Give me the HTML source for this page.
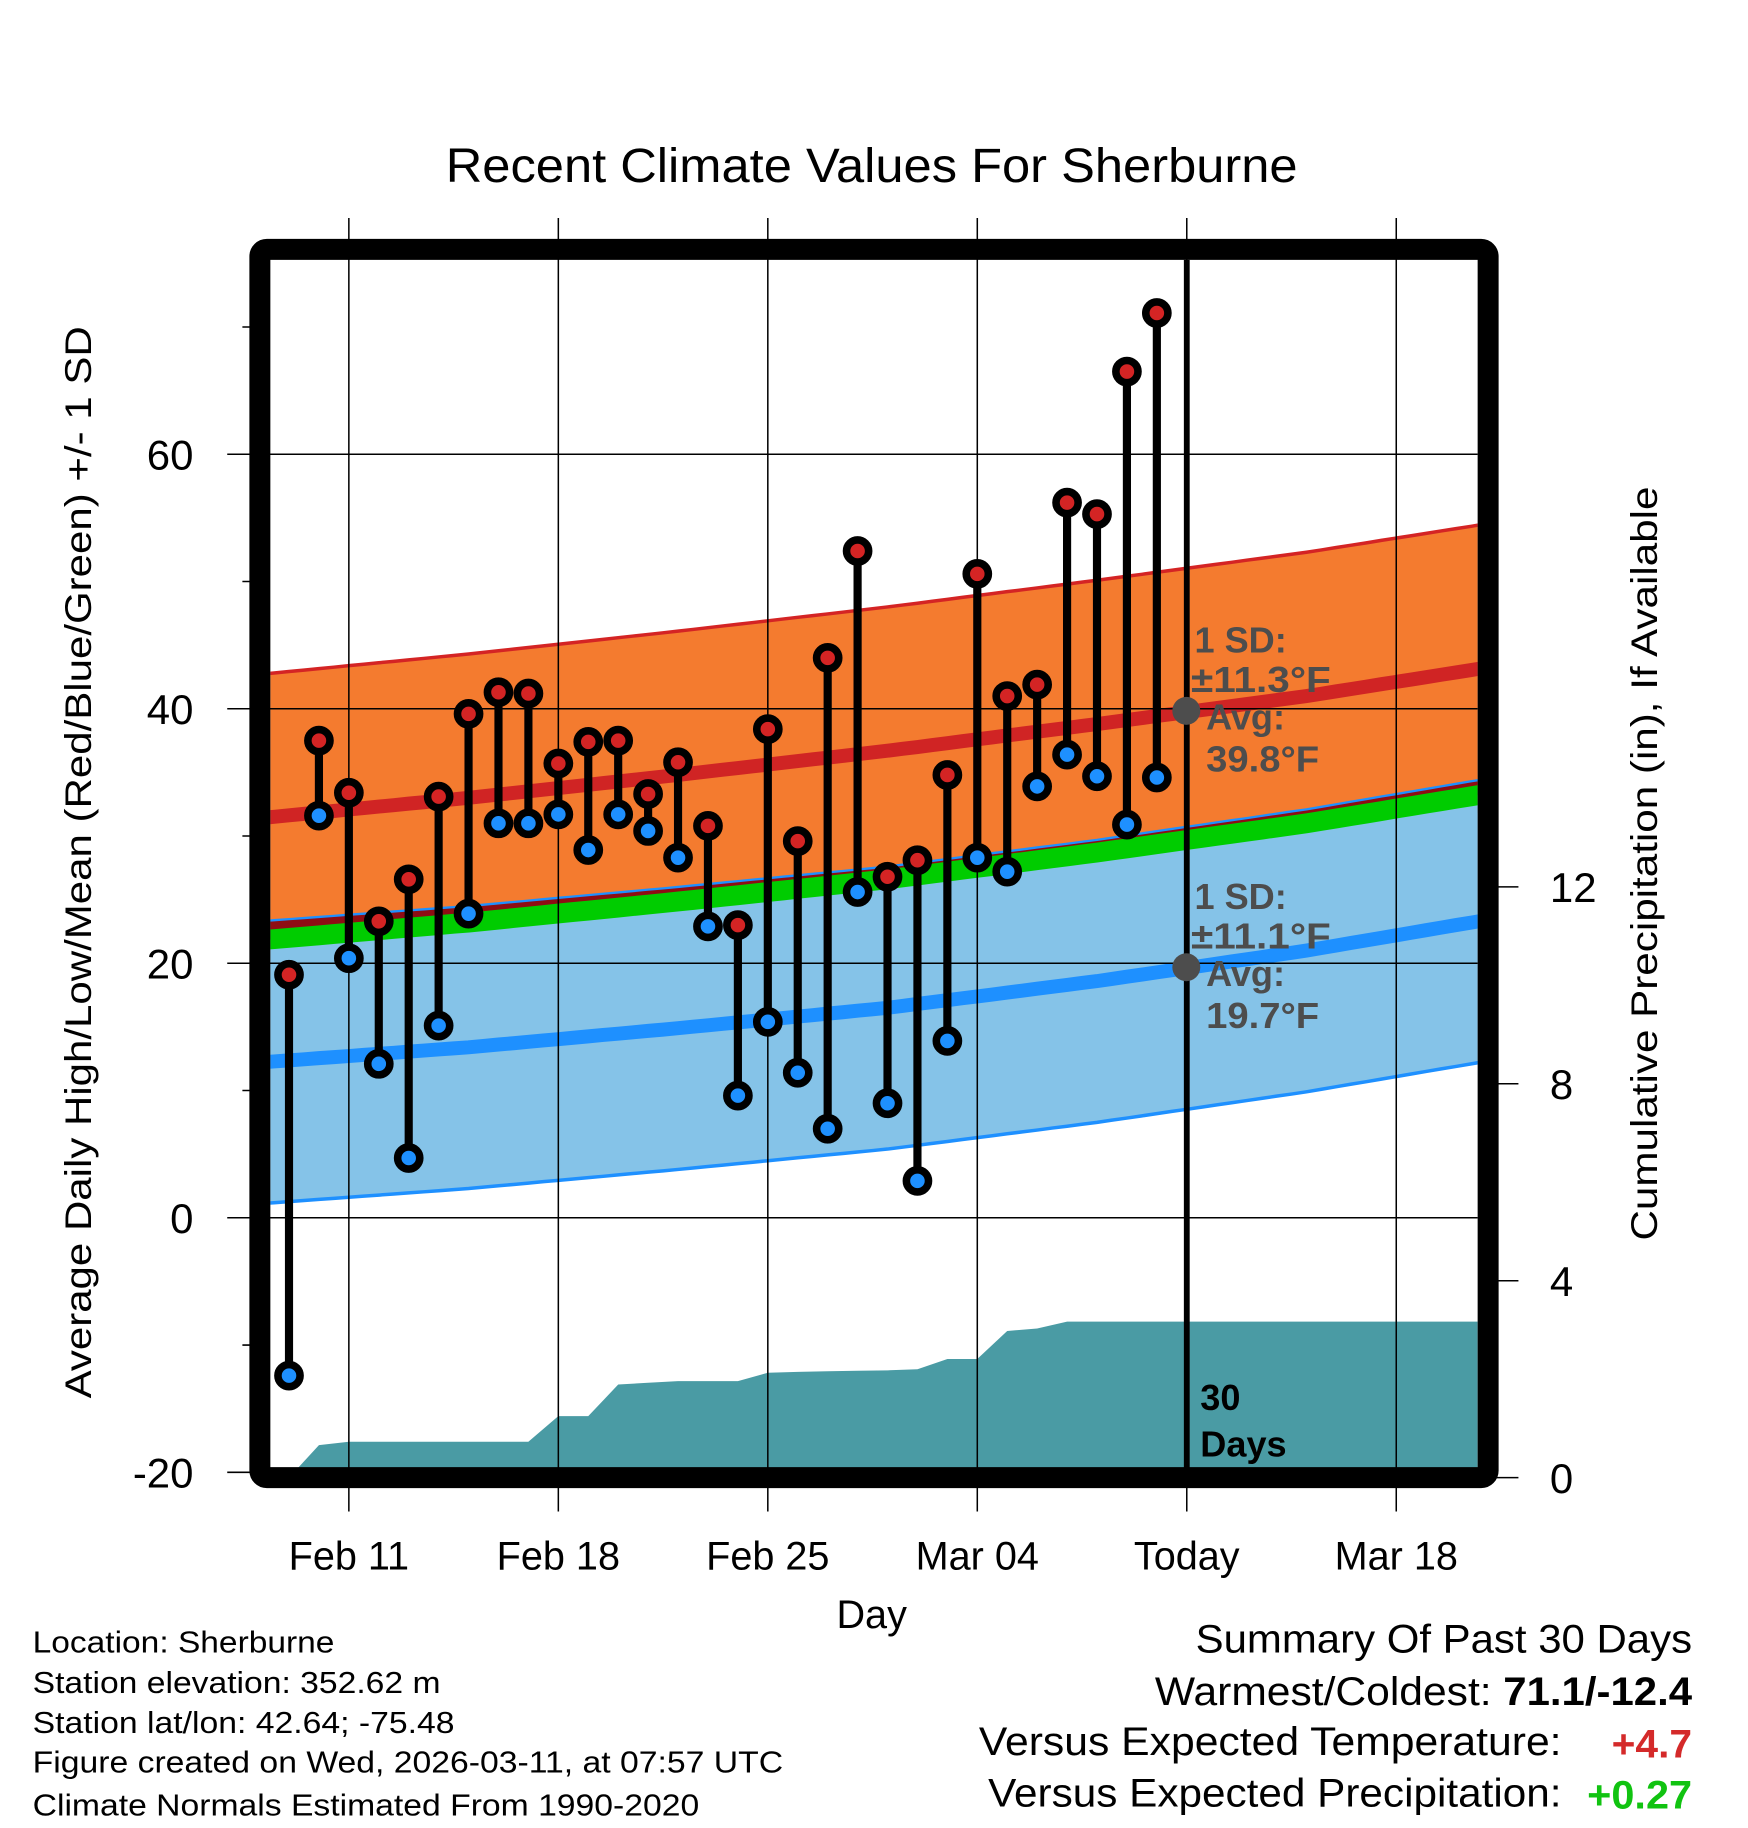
<!DOCTYPE html>
<html><head><meta charset="utf-8"><style>
html,body{margin:0;padding:0;background:#fff;}
svg{display:block;font-family:"Liberation Sans",Arial,sans-serif;}
</style></head><body>
<svg id="chart" width="1748" height="1828" viewBox="0 0 1500 1568.6" xmlns="http://www.w3.org/2000/svg">
<defs><clipPath id="plotclip"><rect x="232" y="223" width="1036" height="1037"/></clipPath></defs>
<text x="748" y="156" text-anchor="middle" font-size="41" textLength="731" lengthAdjust="spacingAndGlyphs">Recent Climate Values For Sherburne</text>
<g id="bands" clip-path="url(#plotclip)"></g>
<g id="precip" clip-path="url(#plotclip)"></g>
<g id="grid"></g>
<g id="marks"></g>
<g id="axes"></g>
<g font-weight="bold" font-size="31" fill="#4d4d4d">
<circle cx="1018" cy="610" r="12" fill="#4d4d4d"/>
<text x="1025" y="560">1 SD:</text><text x="1022" y="594" textLength="120" lengthAdjust="spacingAndGlyphs">±11.3°F</text>
<text x="1035" y="626">Avg:</text><text x="1035" y="662" textLength="97" lengthAdjust="spacingAndGlyphs">39.8°F</text>
</g>
<g font-weight="bold" font-size="31" fill="#4d4d4d">
<circle cx="1018" cy="830" r="12" fill="#4d4d4d"/>
<text x="1025" y="780">1 SD:</text><text x="1022" y="814" textLength="120" lengthAdjust="spacingAndGlyphs">±11.1°F</text>
<text x="1035" y="846">Avg:</text><text x="1035" y="882" textLength="97" lengthAdjust="spacingAndGlyphs">19.7°F</text>
</g>
<g font-weight="bold" font-size="31">
<text x="1030" y="1210">30</text><text x="1030" y="1250">Days</text>
</g>
<text x="748" y="1397" text-anchor="middle" font-size="34">Day</text>
<text transform="translate(78,740) rotate(-90)" text-anchor="middle" font-size="32" textLength="920" lengthAdjust="spacingAndGlyphs">Average Daily High/Low/Mean (Red/Blue/Green) +/- 1 SD</text>
<text transform="translate(1422,741) rotate(-90)" text-anchor="middle" font-size="32" textLength="647" lengthAdjust="spacingAndGlyphs">Cumulative Precipitation (in), If Available</text>
<g font-size="26">
<text x="28" y="1418" textLength="259" lengthAdjust="spacingAndGlyphs">Location: Sherburne</text>
<text x="28" y="1453" textLength="350" lengthAdjust="spacingAndGlyphs">Station elevation: 352.62 m</text>
<text x="28" y="1487" textLength="362" lengthAdjust="spacingAndGlyphs">Station lat/lon: 42.64; -75.48</text>
<text x="28" y="1521" textLength="644" lengthAdjust="spacingAndGlyphs">Figure created on Wed, 2026-03-11, at 07:57 UTC</text>
<text x="28" y="1558" textLength="572" lengthAdjust="spacingAndGlyphs">Climate Normals Estimated From 1990-2020</text>
</g>
<g font-size="34">
<text x="1026" y="1418" textLength="426" lengthAdjust="spacingAndGlyphs">Summary Of Past 30 Days</text>
<text x="991" y="1463" textLength="289" lengthAdjust="spacingAndGlyphs">Warmest/Coldest:</text>
<text x="1290" y="1463" font-weight="bold" textLength="162" lengthAdjust="spacingAndGlyphs">71.1/-12.4</text>
<text x="840" y="1506" textLength="500" lengthAdjust="spacingAndGlyphs">Versus Expected Temperature:</text>
<text x="1383" y="1508" font-weight="bold" fill="#d42a2a" textLength="69" lengthAdjust="spacingAndGlyphs">+4.7</text>
<text x="848" y="1550" textLength="492" lengthAdjust="spacingAndGlyphs">Versus Expected Precipitation:</text>
<text x="1362" y="1552" font-weight="bold" fill="#11c311" textLength="90" lengthAdjust="spacingAndGlyphs">+0.27</text>
</g>
</svg>
<script>
// day index 0 = Feb 9
const highs = [19.1,37.5,33.4,23.3,26.6,33.1,39.6,41.3,41.2,35.7,37.4,37.5,33.3,35.8,30.8,23.0,38.4,29.6,44.0,52.4,26.8,28.1,34.8,50.6,41.0,41.9,56.2,55.3,66.5,71.1];
const lows = [-12.4,31.6,20.4,12.1,4.7,15.1,23.9,31.0,31.0,31.7,28.9,31.7,30.4,28.3,22.9,9.6,15.4,11.4,7.0,25.6,9.0,2.9,13.9,28.3,27.2,33.9,36.4,34.7,30.9,34.6];
const precipCum = [0,0.66,0.73,0.73,0.73,0.73,0.73,0.73,0.73,1.25,1.25,1.89,1.93,1.96,1.96,1.96,2.13,2.15,2.16,2.17,2.18,2.2,2.41,2.41,2.98,3.03,3.17,3.17,3.17,3.17];
const normDays = [-1,6,13,20,27,34,41];
const normHigh = [31.4,33.0,34.8,36.7,38.8,41.0,43.6];
const normLow = [12.2,13.4,14.9,16.5,18.6,21.0,23.8];
const sdHigh = 11.3, sdLow = 11.1;
const xTickDays = [2,9,16,23,30,37];
const xTickLabels = ["Feb 11","Feb 18","Feb 25","Mar 04","Today","Mar 18"];
const yTicks = [-20,0,20,40,60];
const yMinor = [-10,10,30,50,70];
const y2Ticks = [0,4,8,12];

const NS="http://www.w3.org/2000/svg";
const X0=232,X1=1268,Y0=223,Y1=1260;
function xs(d){return 248+25.68*d;}
function ys(t){return 1045-10.92*t;}
function yp(p){return 1268-42.25*p;}
function mk(tag,attrs,parent){const e=document.createElementNS(NS,tag);for(const k in attrs)e.setAttribute(k,attrs[k]);parent.appendChild(e);return e;}
function interp(arr,d){for(let i=0;i<normDays.length-1;i++){if(d<=normDays[i+1]){const f=(d-normDays[i])/(normDays[i+1]-normDays[i]);return arr[i]+f*(arr[i+1]-arr[i]);}}return arr[arr.length-1];}
const samp=[];for(let d=-1;d<=41;d+=0.5)samp.push(d);
function line(f){return samp.map(d=>xs(d).toFixed(1)+","+ys(f(d)).toFixed(1));}
function poly(fTop,fBot){return line(fTop).concat(line(fBot).reverse()).join(" ");}
const H=d=>interp(normHigh,d), L=d=>interp(normLow,d), M=d=>(H(d)+L(d))/2;

const bands=document.getElementById('bands');
let e;
e=mk('polygon',{points:poly(d=>H(d)+sdHigh,d=>H(d)-sdHigh),fill:'#f47b2f'},bands);

e=mk('polygon',{points:poly(d=>L(d)+sdLow,d=>L(d)-sdLow),fill:'#85c3e8'},bands);

e=mk('polygon',{points:poly(d=>L(d)+sdLow,d=>M(d)),fill:'#8e0d14'},bands);

e=mk('polyline',{points:line(d=>H(d)+sdHigh).join(" "),fill:'none',stroke:'#d42424','stroke-width':3},bands);

e=mk('polyline',{points:line(d=>L(d)+sdLow).join(" "),fill:'none',stroke:'#1e90ff','stroke-width':2},bands);

e=mk('polyline',{points:line(d=>L(d)-sdLow).join(" "),fill:'none',stroke:'#1e90ff','stroke-width':3},bands);

e=mk('polyline',{points:line(M).join(" "),fill:'none',stroke:'#00cc00','stroke-width':17},bands);

e=mk('polyline',{points:line(H).join(" "),fill:'none',stroke:'#d02424','stroke-width':12},bands);

e=mk('polyline',{points:line(L).join(" "),fill:'none',stroke:'#1e90ff','stroke-width':12},bands);


const pg=document.getElementById('precip');
let pts=[];precipCum.forEach((p,i)=>pts.push(xs(i).toFixed(1)+","+yp(p).toFixed(1)));
pts.push(X1+","+yp(precipCum[precipCum.length-1]).toFixed(1));pts.push(X1+","+Y1);pts.push(xs(0)+","+Y1);
e=mk('polygon',{points:pts.join(" "),fill:'#4a9ba4'},pg);


const grid=document.getElementById('grid');
xTickDays.forEach((d,i)=>{
  const today=xTickLabels[i]==="Today";
  e=mk('line',{x1:xs(d),x2:xs(d),y1:187,y2:1297,stroke:'#000','stroke-width':1.3},grid);
  
  if(today){e=mk('line',{x1:xs(d),x2:xs(d),y1:Y0,y2:Y1,stroke:'#000','stroke-width':5},grid);
  }
});
yTicks.forEach(t=>{
  e=mk('line',{x1:195,x2:X1,y1:ys(t),y2:ys(t),stroke:'#000','stroke-width':1.3},grid);
  
});
yMinor.forEach(t=>{
  e=mk('line',{x1:208,x2:222,y1:ys(t),y2:ys(t),stroke:'#000','stroke-width':1.3},grid);
  
});
y2Ticks.forEach(p=>{
  e=mk('line',{x1:1280,x2:1303,y1:yp(p),y2:yp(p),stroke:'#000','stroke-width':1.3},grid);
  
});

const marks=document.getElementById('marks');
highs.forEach((h,i)=>{
  const x=xs(i);
  e=mk('line',{x1:x,x2:x,y1:ys(h),y2:ys(lows[i]),stroke:'#000','stroke-width':7},marks);
  
});
highs.forEach((h,i)=>{
  const x=xs(i);
  e=mk('circle',{cx:x,cy:ys(h),r:9.5,fill:'#d42424',stroke:'#000','stroke-width':6.5},marks);
  
  e=mk('circle',{cx:x,cy:ys(lows[i]),r:9.5,fill:'#1e90ff',stroke:'#000','stroke-width':6.5},marks);
  
});

const axes=document.getElementById('axes');
e=mk('rect',{x:223,y:214,width:1054,height:1054,rx:6,fill:'none',stroke:'#000','stroke-width':18},axes);

xTickDays.forEach((d,i)=>{
  e=mk('text',{x:xs(d),y:1347,'text-anchor':'middle','font-size':34},axes);e.textContent=xTickLabels[i];
  
});
yTicks.forEach(t=>{
  e=mk('text',{x:166,y:ys(t)+13,'text-anchor':'end','font-size':36},axes);e.textContent=String(t);
  
});
y2Ticks.forEach(p=>{
  e=mk('text',{x:1330,y:yp(p)+13,'font-size':36},axes);e.textContent=String(p);
  
});
</script>
</body></html>
